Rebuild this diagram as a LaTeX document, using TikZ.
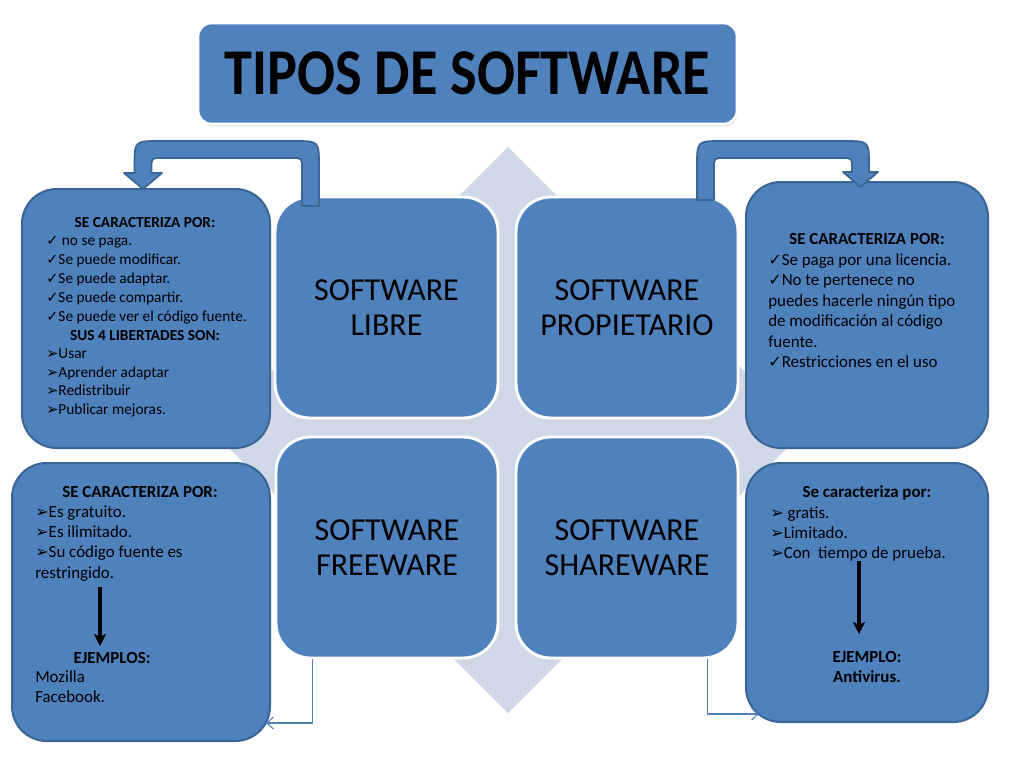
\documentclass[tikz,border=0pt]{standalone}
\usepackage{fontspec}
\setmainfont{Carlito}
\newfontfamily\symf{DejaVu Sans}[Scale=0.95]
\usetikzlibrary{arrows.meta,calc,shadows}
\definecolor{boxblue}{HTML}{4F81BD}
\definecolor{sideborder}{HTML}{3A6594}
\definecolor{crossgray}{HTML}{D0D8E8}
\newcommand{\mychk}{{\symf ✓}}
\newcommand{\myarr}{{\symf ➢}}
\begin{document}
\begin{tikzpicture}[x=0.75pt,y=-0.75pt,
  sidebox/.style={draw=sideborder,line width=1.5pt,fill=boxblue,rounded corners=26pt,inner sep=0pt},
  quadbox/.style={draw=white,line width=2.2pt,fill=boxblue,rounded corners=26pt,inner sep=0pt,
    font=\fontsize{24}{26.5}\selectfont,align=center},
  titlebox/.style={draw=white,line width=2pt,fill=boxblue,rounded corners=10pt,inner sep=0pt,
    drop shadow={shadow xshift=0.6pt,shadow yshift=-1.8pt,opacity=0.25},
    font=\fontsize{49}{52}\selectfont\bfseries},
  uarrow/.style={draw=sideborder,line width=1.3pt,fill=boxblue,line join=round},
  conn/.style={draw=boxblue,line width=0.8pt,-{Straight Barb[length=5pt,width=9pt]}},
  blkarrow/.style={draw=black,line width=2.3pt,-{Stealth[length=9pt,width=9pt,inset=2pt]}},
  ltxt/.style={font=\fontsize{11.5}{14}\selectfont,inner sep=0pt,anchor=base west},
  lhead/.style={font=\fontsize{11.5}{14}\selectfont\bfseries,inner sep=0pt,anchor=base},
  mtxt/.style={font=\fontsize{12.7}{15}\selectfont,inner sep=0pt,anchor=base west},
  mhead/.style={font=\fontsize{12.7}{15}\selectfont\bfseries,inner sep=0pt,anchor=base},
  crossbg/.style={fill=crossgray,draw=none}
]
\useasboundingbox (0,0) rectangle (1024,768);
\fill[white] (0,0) rectangle (1024,768);

% background four-way arrow
\path[crossbg] (468,205) -- (450,205) -- (508,147) -- (566,205) -- (548,205) -- (548,391)
  -- (734,391) -- (734,361) -- (804,431) -- (734,501) -- (734,471) -- (548,471)
  -- (548,655) -- (566,655) -- (508,713) -- (450,655) -- (468,655) -- (468,471)
  -- (282,471) -- (282,501) -- (212,431) -- (282,361) -- (282,391) -- (468,391) -- cycle;

% quadrants
\node[quadbox,minimum width=167.25pt,minimum height=165.75pt] (libre) at (386.5,307.5) {SOFTWARE\\LIBRE};
\node[quadbox,minimum width=166.5pt,minimum height=165.75pt] (prop) at (627,307.5) {SOFTWARE\\PROPIETARIO};
\node[quadbox,minimum width=166.5pt,minimum height=165.75pt] (free) at (387,547.5) {SOFTWARE\\FREEWARE};
\node[quadbox,minimum width=166.5pt,minimum height=165.75pt] (share) at (627,547.5) {SOFTWARE\\SHAREWARE};

% side boxes
\node[sidebox,minimum width=186pt,minimum height=194.25pt] (lt) at (146,318.5) {};
\node[sidebox,minimum width=181.5pt,minimum height=199.5pt] (rt) at (867,315) {};
\node[sidebox,minimum width=193.5pt,minimum height=208.5pt] (lb) at (141,602) {};
\node[sidebox,minimum width=181.5pt,minimum height=194.25pt] (rb) at (867,592.5) {};

% title
\node[titlebox,minimum width=404.25pt,minimum height=75.75pt] (title) at (467.5,73.5)
  {\raisebox{-2.5pt}{\scalebox{0.86}[1]{TIPOS DE SOFTWARE}}};

% U-turn block arrows
\path[uarrow] (302,206) -- (302,168) .. controls (302,158) .. (292,158) -- (161.5,158)
  .. controls (151.5,158) .. (151.5,168) -- (151.5,173) -- (162,173) -- (143,189) -- (124,173)
  -- (134.5,173) -- (134.5,166) .. controls (134.5,141) .. (159.5,141) -- (294,141)
  .. controls (319,141) .. (319,166) -- (319,206) -- cycle;
\path[uarrow] (697,200) -- (697,166) .. controls (697,141) .. (722,141) -- (844,141)
  .. controls (869,141) .. (869,166) -- (869,172) -- (878,172) -- (860.5,187) -- (843,172)
  -- (852,172) -- (852,168) .. controls (852,158) .. (842,158) -- (724,158)
  .. controls (714,158) .. (714,168) -- (714,200) -- cycle;

% thin connectors
\draw[conn] ($(free.south west)+(38,0)$) |- ($(lb.south east)+(-5,-19)$);
\draw[conn] ($(share.south east)+(-32,0)$) |- ($(rb.south west)+(14,-9)$);

% left-top text
\node[lhead] (lth1) at (145,227) {SE CARACTERIZA POR:};
\foreach \yy/\tx [count=\i] in {245/{\mychk\ no se paga.},264/{\mychk Se puede modificar.},
  283/{\mychk Se puede adaptar.},302/{\mychk Se puede compartir.},321/{\mychk Se puede ver el código fuente.}}
  \node[ltxt] (lta\i) at (46,\yy) {\tx};
\node[lhead] (lth2) at (145,340) {SUS 4 LIBERTADES SON:};
\foreach \yy/\tx [count=\i] in {358/{\myarr Usar},377/{\myarr Aprender adaptar},
  395/{\myarr Redistribuir},414/{\myarr Publicar mejoras.}}
  \node[ltxt] (ltb\i) at (46,\yy) {\tx};

% right-top text
\node[mhead] (rth) at (867,244.5) {SE CARACTERIZA POR:};
\foreach \yy/\tx [count=\i] in {265/{\mychk Se paga por una licencia.},285.5/{\mychk No te pertenece no},
  306/{puedes hacerle ningún tipo},326.5/{de modificación al código},347/{fuente.},
  367.5/{\mychk Restricciones en el uso}}
  \node[mtxt] (rta\i) at (768,\yy) {\tx};

% left-bottom text
\node[mhead] (lbh) at (140,497) {SE CARACTERIZA POR:};
\foreach \yy/\tx [count=\i] in {517/{\myarr Es gratuito.},537/{\myarr Es ilimitado.},
  557/{\myarr Su código fuente es},578/{restringido.}}
  \node[mtxt] (lba\i) at (35,\yy) {\tx};
\node[mhead] (lbe) at (112,663) {EJEMPLOS:};
\node[mtxt] (lbm) at (35,682) {Mozilla};
\node[mtxt] (lbf) at (35,702) {Facebook.};

% right-bottom text
\node[mhead] (rbh) at (867,497) {Se caracteriza por:};
\foreach \yy/\tx [count=\i] in {518/{\myarr\ gratis.},538/{\myarr Limitado.},558/{\myarr Con\ \ tiempo de prueba.}}
  \node[mtxt] (rba\i) at (770,\yy) {\tx};
\node[mhead] (rbe) at (867,662) {EJEMPLO:};
\node[mhead] (rbv) at (867,682) {Antivirus.};

% black arrows
\coordinate (la1) at (100,587);
\coordinate (la2) at (100,646);
\draw[blkarrow] (la1) -- (la2);
\coordinate (ra1) at (859,561);
\coordinate (ra2) at (859,634);
\draw[blkarrow] (ra1) -- (ra2);
\end{tikzpicture}
\end{document}
